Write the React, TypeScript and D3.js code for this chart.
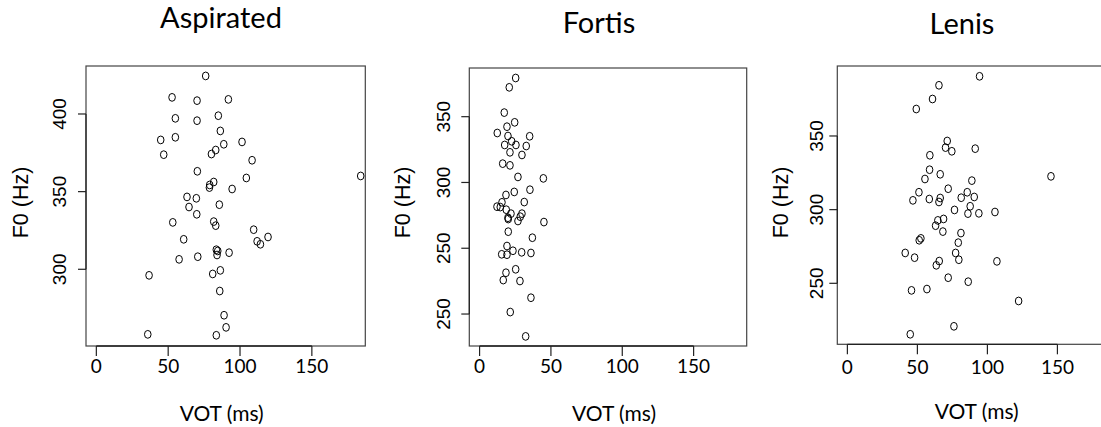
import React from "react";
import * as d3 from "d3";

// ---- data ----
const panelTitles = ["Aspirated", "Fortis", "Lenis"];
const xLabel = "VOT (ms)";
const yLabel = "F0 (Hz)";
const xTickValues = [0, 50, 100, 150];

const aspiratedVOT = [76.1, 52.7, 70.1, 91.9, 55.0, 84.9, 70.1, 86.3, 44.8, 55.0, 101.4, 88.7, 83.1, 80.1, 46.9, 108.4, 70.3, 104.4, 81.7, 78.9, 78.7, 94.5, 63.1, 69.6, 64.5, 85.6, 69.9, 53.2, 81.7, 83.1, 109.5, 119.5, 111.9, 114.2, 60.8, 83.5, 84.5, 84.0, 92.4, 57.6, 70.6, 36.7, 81.0, 86.3, 85.9, 88.9, 90.3, 35.8, 83.5, 184.0];
const aspiratedF0 = [424.5, 410.7, 408.6, 409.4, 397.2, 398.9, 395.7, 389.1, 383.3, 385.0, 382.0, 380.5, 376.8, 374.2, 373.8, 370.2, 363.1, 358.8, 356.2, 354.3, 352.6, 351.7, 346.6, 345.7, 340.1, 341.6, 335.4, 330.2, 330.7, 328.1, 325.5, 320.8, 318.0, 316.1, 319.3, 312.6, 311.8, 309.2, 310.7, 306.4, 308.1, 296.1, 297.0, 299.3, 286.0, 270.4, 262.6, 258.1, 257.5, 360.1];

const fortisVOT = [25.3, 20.8, 17.3, 24.6, 19.2, 12.4, 19.9, 35.1, 22.5, 25.5, 17.6, 32.7, 21.3, 29.7, 16.2, 21.3, 26.9, 44.7, 35.3, 24.3, 18.5, 15.7, 31.3, 12.2, 14.5, 18.7, 22.0, 19.9, 29.7, 28.5, 26.9, 20.1, 45.1, 20.1, 37.0, 19.2, 23.4, 29.5, 15.5, 19.2, 36.0, 18.5, 25.3, 16.6, 28.3, 36.0, 21.5, 32.3];
const fortisF0 = [379.4, 372.3, 353.1, 345.7, 342.4, 337.6, 335.3, 335.1, 331.3, 328.5, 328.5, 327.7, 322.9, 320.9, 314.3, 313.0, 304.2, 303.1, 294.5, 292.8, 290.5, 284.9, 285.1, 281.6, 281.3, 279.3, 276.3, 273.2, 276.3, 274.0, 270.7, 272.2, 269.9, 262.6, 258.0, 251.7, 248.1, 246.9, 245.4, 245.1, 246.4, 231.4, 234.0, 225.8, 225.1, 212.4, 201.5, 183.0];

const lenisVOT = [94.4, 65.4, 60.8, 49.2, 71.3, 70.1, 74.6, 91.3, 58.9, 58.7, 66.3, 55.4, 88.9, 72.0, 51.1, 46.8, 58.5, 66.3, 65.4, 81.3, 85.6, 90.6, 87.7, 76.5, 86.1, 93.9, 105.4, 145.4, 68.7, 64.6, 63.0, 68.2, 81.1, 52.5, 51.3, 79.2, 41.3, 77.3, 48.0, 79.6, 65.6, 63.5, 106.8, 72.0, 86.3, 45.8, 56.8, 122.3, 76.1, 44.9];
const lenisF0 = [390.5, 384.4, 375.1, 368.3, 346.6, 342.1, 339.6, 341.4, 336.9, 327.1, 324.0, 320.8, 319.7, 314.2, 311.8, 306.3, 307.2, 307.9, 305.2, 308.1, 311.8, 308.6, 302.3, 299.8, 297.3, 297.5, 298.4, 322.6, 293.7, 292.7, 289.1, 285.1, 284.1, 280.5, 279.2, 277.6, 270.6, 270.6, 267.4, 266.0, 265.1, 262.2, 264.9, 253.8, 251.1, 245.2, 246.1, 238.0, 220.8, 215.4];

const aspiratedYTicks = [300, 350, 400];
const aspiratedYTickLabels = ["300", "350", "400"];
const fortisYTicks = [200, 250, 300, 350];
const fortisYTickLabels = ["250", "250", "300", "350"];
const lenisYTicks = [250, 300, 350];
const lenisYTickLabels = ["250", "300", "350"];

// ---- layout ----
const W = 1101;
const H = 427;
const calibriLike = "Lato, 'Open Sans', sans-serif";
const arialLike = "'Liberation Sans', Arial, sans-serif";

type Panel = {
  title: string;
  vot: number[];
  f0: number[];
  yTicks: number[];
  yTickLabels: string[];
  left: number;
  right: number;
  top: number;
  bottom: number;
  yDomain: [number, number];
  titleX: number;
  titleY: number;
  yTickLabelX: number;
  yLabelX: number;
  xTickLabelY: number;
  xLabelX: number;
  xLabelY: number;
};

const panels: Panel[] = [
  {
    title: panelTitles[0], vot: aspiratedVOT, f0: aspiratedF0,
    yTicks: aspiratedYTicks, yTickLabels: aspiratedYTickLabels,
    left: 86, right: 365.3, top: 66, bottom: 346, yDomain: [250.6, 430.9],
    titleX: 221, titleY: 27.5, yTickLabelX: 66, yLabelX: 28,
    xTickLabelY: 373, xLabelX: 221.7, xLabelY: 421,
  },
  {
    title: panelTitles[1], vot: fortisVOT, f0: fortisF0,
    yTicks: fortisYTicks, yTickLabels: fortisYTickLabels,
    left: 469.3, right: 746.7, top: 68, bottom: 346, yDomain: [175.7, 387.0],
    titleX: 599, titleY: 32.7, yTickLabelX: 450, yLabelX: 410,
    xTickLabelY: 373, xLabelX: 614, xLabelY: 420.7,
  },
  {
    title: panelTitles[2], vot: lenisVOT, f0: lenisF0,
    yTicks: lenisYTicks, yTickLabels: lenisYTickLabels,
    left: 837.3, right: 1109.5, top: 66, bottom: 344.3, yDomain: [208.6, 397.5],
    titleX: 962, titleY: 34, yTickLabelX: 823, yLabelX: 788,
    xTickLabelY: 374, xLabelX: 976.7, xLabelY: 419,
  },
];

const xDomain: [number, number] = [-7.2, 187.2];

function PanelView({ p }: { p: Panel }) {
  const x = d3.scaleLinear().domain(xDomain).range([p.left, p.right]);
  const y = d3.scaleLinear().domain(p.yDomain).range([p.bottom, p.top]);
  const yMid = 202.5;
  return (
    <g>
      <text x={p.titleX} y={p.titleY} textAnchor="middle" fontFamily={calibriLike} fontSize={29} fill="#000">
        {p.title}
      </text>
      <rect x={p.left} y={p.top} width={p.right - p.left} height={p.bottom - p.top}
        fill="none" stroke="#444" strokeWidth={1.2} />
      {/* x axis */}
      <line x1={x(xTickValues[0])} x2={x(xTickValues[xTickValues.length - 1])} y1={p.bottom} y2={p.bottom}
        stroke="#222" strokeWidth={1.3} />
      {xTickValues.map((t) => (
        <g key={"xt" + t}>
          <line x1={x(t)} x2={x(t)} y1={p.bottom} y2={p.bottom + 10} stroke="#222" strokeWidth={1.2} />
          <text x={x(t)} y={p.xTickLabelY} textAnchor="middle" fontFamily={calibriLike} fontSize={19} fill="#000">
            {t}
          </text>
        </g>
      ))}
      <text x={p.xLabelX} y={p.xLabelY} textAnchor="middle" fontFamily={calibriLike} fontSize={21} fill="#000">
        {xLabel}
      </text>
      {/* y axis */}
      <line x1={p.left} x2={p.left} y1={y(p.yTicks[0])} y2={y(p.yTicks[p.yTicks.length - 1])}
        stroke="#222" strokeWidth={1.2} />
      {p.yTicks.map((t, i) => (
        <g key={"yt" + i}>
          <line x1={p.left - 8} x2={p.left} y1={y(t)} y2={y(t)} stroke="#222" strokeWidth={1.2} />
          <text transform={`translate(${p.yTickLabelX},${y(t)}) rotate(-90)`} textAnchor="middle"
            fontFamily={arialLike} fontSize={19} fill="#000">
            {p.yTickLabels[i]}
          </text>
        </g>
      ))}
      <text transform={`translate(${p.yLabelX},${yMid}) rotate(-90)`} textAnchor="middle"
        fontFamily={arialLike} fontSize={21.5} fill="#000">
        {yLabel}
      </text>
      {p.vot.map((v, i) => (
        <ellipse key={"pt" + i} cx={x(v)} cy={y(p.f0[i])} rx={3.3} ry={3.9}
          fill="none" stroke="#000" strokeWidth={1} />
      ))}
    </g>
  );
}

export default function App() {
  return (
    <svg width={W} height={H} viewBox={`0 0 ${W} ${H}`}
      style={{ position: "absolute", left: 0, top: 0, background: "#fff" }}>
      <rect x={0} y={0} width={W} height={H} fill="#fff" />
      {panels.map((p) => (
        <PanelView key={p.title} p={p} />
      ))}
    </svg>
  );
}
